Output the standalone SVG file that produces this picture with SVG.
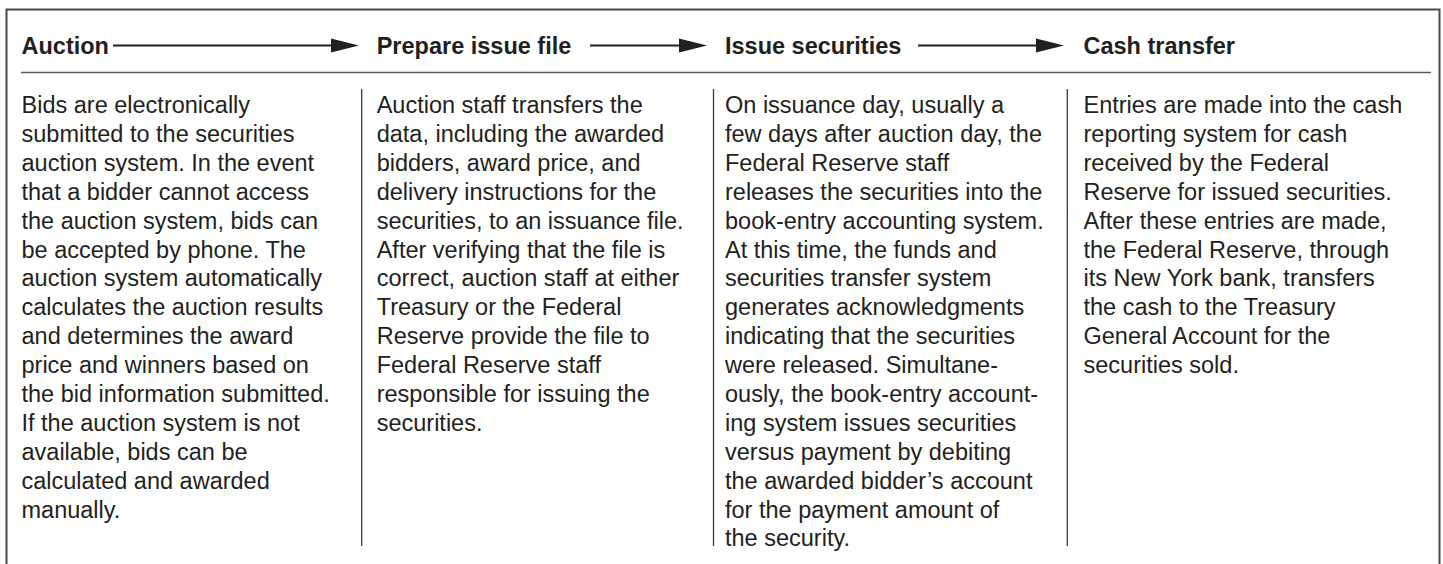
<svg xmlns="http://www.w3.org/2000/svg" width="1443" height="564" viewBox="0 0 1443 564">
<style>
.frame{fill:none;stroke:#4a4a4a;stroke-width:2}
.rule{stroke:#5a5a5a;stroke-width:1.6}
.div{stroke:#3a3a3a;stroke-width:1.3}
.conn{stroke:#231f20;stroke-width:2}
.hd{font-family:"Liberation Sans",Arial,sans-serif;font-weight:bold;font-size:23.5px;fill:#231f20}
.bd{font-family:"Liberation Sans",Arial,sans-serif;font-size:23.5px;fill:#231f20}
</style>
<defs>
<marker id="ah" markerUnits="userSpaceOnUse" markerWidth="29" markerHeight="15" refX="0" refY="7.5" orient="auto">
<path d="M0,0.5 L28,7.5 L0,14.5 z" fill="#231f20"/>
</marker>
</defs>
<rect width="1443" height="564" fill="#fff"/>
<path class="frame" d="M6.5,564 V9.5 H1439.5 V564"/>
<line class="rule" x1="21" y1="72.5" x2="1431" y2="72.5"/>
<g id="dividers">
<line class="div" x1="361.7" y1="89" x2="361.7" y2="546"/>
<line class="div" x1="713.5" y1="89" x2="713.5" y2="546"/>
<line class="div" x1="1067.3" y1="89" x2="1067.3" y2="546"/>
</g>
<g id="connectors">
<line class="conn" x1="113" y1="45.5" x2="331" y2="45.5" marker-end="url(#ah)"/>
<line class="conn" x1="590" y1="45.5" x2="679" y2="45.5" marker-end="url(#ah)"/>
<line class="conn" x1="918" y1="45.5" x2="1036" y2="45.5" marker-end="url(#ah)"/>
</g>
<g id="auction">
<text class="hd" x="21.5" y="54">Auction</text>
<text class="bd" y="113">
<tspan x="21.5">Bids are electronically</tspan>
<tspan x="21.5" dy="28.9">submitted to the securities</tspan>
<tspan x="21.5" dy="28.9">auction system. In the event</tspan>
<tspan x="21.5" dy="28.9">that a bidder cannot access</tspan>
<tspan x="21.5" dy="28.9">the auction system, bids can</tspan>
<tspan x="21.5" dy="28.9">be accepted by phone. The</tspan>
<tspan x="21.5" dy="28.9">auction system automatically</tspan>
<tspan x="21.5" dy="28.9">calculates the auction results</tspan>
<tspan x="21.5" dy="28.9">and determines the award</tspan>
<tspan x="21.5" dy="28.9">price and winners based on</tspan>
<tspan x="21.5" dy="28.9">the bid information submitted.</tspan>
<tspan x="21.5" dy="28.9">If the auction system is not</tspan>
<tspan x="21.5" dy="28.9">available, bids can be</tspan>
<tspan x="21.5" dy="28.9">calculated and awarded</tspan>
<tspan x="21.5" dy="28.9">manually.</tspan>
</text>
</g>
<g id="prepare-issue-file">
<text class="hd" x="376.7" y="54">Prepare issue file</text>
<text class="bd" y="113">
<tspan x="376.7">Auction staff transfers the</tspan>
<tspan x="376.7" dy="28.9">data, including the awarded</tspan>
<tspan x="376.7" dy="28.9">bidders, award price, and</tspan>
<tspan x="376.7" dy="28.9">delivery instructions for the</tspan>
<tspan x="376.7" dy="28.9">securities, to an issuance file.</tspan>
<tspan x="376.7" dy="28.9">After verifying that the file is</tspan>
<tspan x="376.7" dy="28.9">correct, auction staff at either</tspan>
<tspan x="376.7" dy="28.9">Treasury or the Federal</tspan>
<tspan x="376.7" dy="28.9">Reserve provide the file to</tspan>
<tspan x="376.7" dy="28.9">Federal Reserve staff</tspan>
<tspan x="376.7" dy="28.9">responsible for issuing the</tspan>
<tspan x="376.7" dy="28.9">securities.</tspan>
</text>
</g>
<g id="issue-securities">
<text class="hd" x="725" y="54">Issue securities</text>
<text class="bd" y="113">
<tspan x="725">On issuance day, usually a</tspan>
<tspan x="725" dy="28.9">few days after auction day, the</tspan>
<tspan x="725" dy="28.9">Federal Reserve staff</tspan>
<tspan x="725" dy="28.9">releases the securities into the</tspan>
<tspan x="725" dy="28.9">book-entry accounting system.</tspan>
<tspan x="725" dy="28.9">At this time, the funds and</tspan>
<tspan x="725" dy="28.9">securities transfer system</tspan>
<tspan x="725" dy="28.9">generates acknowledgments</tspan>
<tspan x="725" dy="28.9">indicating that the securities</tspan>
<tspan x="725" dy="28.9">were released. Simultane-</tspan>
<tspan x="725" dy="28.9">ously, the book-entry account-</tspan>
<tspan x="725" dy="28.9">ing system issues securities</tspan>
<tspan x="725" dy="28.9">versus payment by debiting</tspan>
<tspan x="725" dy="28.9">the awarded bidder’s account</tspan>
<tspan x="725" dy="28.9">for the payment amount of</tspan>
<tspan x="725" dy="28.9">the security.</tspan>
</text>
</g>
<g id="cash-transfer">
<text class="hd" x="1083.5" y="54">Cash transfer</text>
<text class="bd" y="113">
<tspan x="1083.5">Entries are made into the cash</tspan>
<tspan x="1083.5" dy="28.9">reporting system for cash</tspan>
<tspan x="1083.5" dy="28.9">received by the Federal</tspan>
<tspan x="1083.5" dy="28.9">Reserve for issued securities.</tspan>
<tspan x="1083.5" dy="28.9">After these entries are made,</tspan>
<tspan x="1083.5" dy="28.9">the Federal Reserve, through</tspan>
<tspan x="1083.5" dy="28.9">its New York bank, transfers</tspan>
<tspan x="1083.5" dy="28.9">the cash to the Treasury</tspan>
<tspan x="1083.5" dy="28.9">General Account for the</tspan>
<tspan x="1083.5" dy="28.9">securities sold.</tspan>
</text>
</g>
</svg>
